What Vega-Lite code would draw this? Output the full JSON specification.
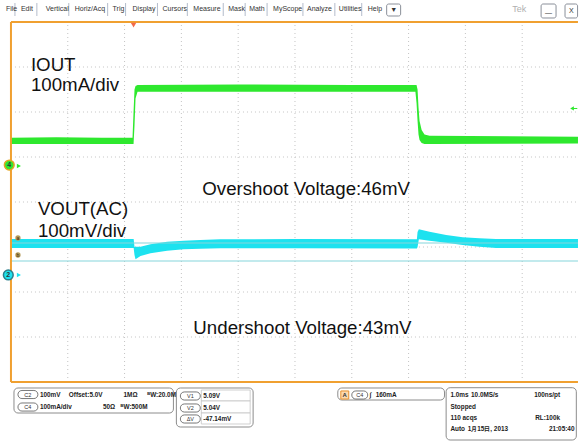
{
  "$schema": "https://vega.github.io/schema/vega-lite/v6.json",
  "width": 579,
  "height": 441,
  "padding": 0,
  "autosize": {"type": "fit", "contains": "padding"},
  "background": "white",
  "config": {"view": {"stroke": null}, "font": "Liberation Sans"},
  "datasets": {
    "grid": [
      {"t": 1, "y": -4, "t2": 1, "y2": 4}, {"t": 2, "y": -4, "t2": 2, "y2": 4}, {"t": 3, "y": -4, "t2": 3, "y2": 4},
      {"t": 4, "y": -4, "t2": 4, "y2": 4}, {"t": 5, "y": -4, "t2": 5, "y2": 4}, {"t": 6, "y": -4, "t2": 6, "y2": 4},
      {"t": 7, "y": -4, "t2": 7, "y2": 4}, {"t": 8, "y": -4, "t2": 8, "y2": 4}, {"t": 9, "y": -4, "t2": 9, "y2": 4},
      {"t": 0, "y": -3, "t2": 9.98, "y2": -3}, {"t": 0, "y": -2, "t2": 9.98, "y2": -2}, {"t": 0, "y": -1, "t2": 9.98, "y2": -1},
      {"t": 0, "y": 0, "t2": 9.98, "y2": 0}, {"t": 0, "y": 1, "t2": 9.98, "y2": 1}, {"t": 0, "y": 2, "t2": 9.98, "y2": 2},
      {"t": 0, "y": 3, "t2": 9.98, "y2": 3}
    ],
    "xMinor": [
      {"t": 0.2}, {"t": 0.4}, {"t": 0.6}, {"t": 0.8}, {"t": 1.0}, {"t": 1.2}, {"t": 1.4}, {"t": 1.6}, {"t": 1.8}, {"t": 2.0},
      {"t": 2.2}, {"t": 2.4}, {"t": 2.6}, {"t": 2.8}, {"t": 3.0}, {"t": 3.2}, {"t": 3.4}, {"t": 3.6}, {"t": 3.8}, {"t": 4.0},
      {"t": 4.2}, {"t": 4.4}, {"t": 4.6}, {"t": 4.8}, {"t": 5.0}, {"t": 5.2}, {"t": 5.4}, {"t": 5.6}, {"t": 5.8}, {"t": 6.0},
      {"t": 6.2}, {"t": 6.4}, {"t": 6.6}, {"t": 6.8}, {"t": 7.0}, {"t": 7.2}, {"t": 7.4}, {"t": 7.6}, {"t": 7.8}, {"t": 8.0},
      {"t": 8.2}, {"t": 8.4}, {"t": 8.6}, {"t": 8.8}, {"t": 9.0}, {"t": 9.2}, {"t": 9.4}, {"t": 9.6}, {"t": 9.8}
    ],
    "yMinor": [
      {"y": -3.8}, {"y": -3.6}, {"y": -3.4}, {"y": -3.2}, {"y": -3.0}, {"y": -2.8}, {"y": -2.6}, {"y": -2.4}, {"y": -2.2}, {"y": -2.0},
      {"y": -1.8}, {"y": -1.6}, {"y": -1.4}, {"y": -1.2}, {"y": -1.0}, {"y": -0.8}, {"y": -0.6}, {"y": -0.4}, {"y": -0.2}, {"y": 0.0},
      {"y": 0.2}, {"y": 0.4}, {"y": 0.6}, {"y": 0.8}, {"y": 1.0}, {"y": 1.2}, {"y": 1.4}, {"y": 1.6}, {"y": 1.8}, {"y": 2.0},
      {"y": 2.2}, {"y": 2.4}, {"y": 2.6}, {"y": 2.8}, {"y": 3.0}, {"y": 3.2}, {"y": 3.4}, {"y": 3.6}, {"y": 3.8}
    ],
    "iout": [
      {"t": 0, "y": 1.43, "y2": 1.29}, {"t": 0.8, "y": 1.44, "y2": 1.29}, {"t": 1.6, "y": 1.43, "y2": 1.29},
      {"t": 2.14, "y": 1.43, "y2": 1.29}, {"t": 2.158, "y": 2.0, "y2": 1.29}, {"t": 2.175, "y": 2.5, "y2": 1.7},
      {"t": 2.193, "y": 2.58, "y2": 2.3}, {"t": 2.228, "y": 2.6, "y2": 2.45}, {"t": 4.0, "y": 2.61, "y2": 2.45},
      {"t": 6.0, "y": 2.6, "y2": 2.45}, {"t": 7.12, "y": 2.6, "y2": 2.45}, {"t": 7.14, "y": 2.6, "y2": 2.2},
      {"t": 7.158, "y": 2.5, "y2": 1.8}, {"t": 7.175, "y": 2.1, "y2": 1.5}, {"t": 7.193, "y": 1.8, "y2": 1.38},
      {"t": 7.23, "y": 1.6, "y2": 1.31}, {"t": 7.28, "y": 1.5, "y2": 1.29}, {"t": 7.37, "y": 1.47, "y2": 1.29},
      {"t": 9.982, "y": 1.45, "y2": 1.3}
    ],
    "vout": [
      {"t": 0, "y": -0.822, "y2": -1.022}, {"t": 2.16, "y": -0.822, "y2": -1.022}, {"t": 2.175, "y": -1.0, "y2": -1.178},
      {"t": 2.193, "y": -0.993, "y2": -1.273}, {"t": 2.281, "y": -0.993, "y2": -1.2}, {"t": 2.456, "y": -0.94, "y2": -1.14},
      {"t": 2.749, "y": -0.882, "y2": -1.082}, {"t": 3.04, "y": -0.86, "y2": -1.051}, {"t": 3.333, "y": -0.844, "y2": -1.038},
      {"t": 3.684, "y": -0.829, "y2": -1.029}, {"t": 5.0, "y": -0.822, "y2": -1.025}, {"t": 7.146, "y": -0.829, "y2": -1.033},
      {"t": 7.158, "y": -0.667, "y2": -1.0}, {"t": 7.181, "y": -0.607, "y2": -0.829}, {"t": 7.368, "y": -0.66, "y2": -0.86},
      {"t": 7.661, "y": -0.733, "y2": -0.904}, {"t": 7.953, "y": -0.784, "y2": -0.956}, {"t": 8.246, "y": -0.807, "y2": -0.993},
      {"t": 8.539, "y": -0.822, "y2": -1.022}, {"t": 9.982, "y": -0.822, "y2": -1.022}
    ],
    "cursors": [
      {"t": 0, "y": -0.911, "t2": 9.982, "y2": -0.911},
      {"t": 0, "y": -1.311, "t2": 9.982, "y2": -1.311}
    ],
    "frame": [
      {"t": 0, "y": 4, "t2": 9.982, "y2": 4},
      {"t": 0, "y": -4, "t2": 9.982, "y2": -4},
      {"t": 0, "y": -4, "t2": 0, "y2": 4}
    ],
    "menuSeps": [
      {"t": 0.07, "y": 4.422, "t2": 0.07, "y2": 4.133}, {"t": 0.456, "y": 4.422, "t2": 0.456, "y2": 4.133},
      {"t": 1.018, "y": 4.422, "t2": 1.018, "y2": 4.133}, {"t": 1.702, "y": 4.422, "t2": 1.702, "y2": 4.133},
      {"t": 2.018, "y": 4.422, "t2": 2.018, "y2": 4.133}, {"t": 2.579, "y": 4.422, "t2": 2.579, "y2": 4.133},
      {"t": 3.105, "y": 4.422, "t2": 3.105, "y2": 4.133}, {"t": 3.737, "y": 4.422, "t2": 3.737, "y2": 4.133},
      {"t": 4.123, "y": 4.422, "t2": 4.123, "y2": 4.133}, {"t": 4.509, "y": 4.422, "t2": 4.509, "y2": 4.133},
      {"t": 5.14, "y": 4.422, "t2": 5.14, "y2": 4.133}, {"t": 5.702, "y": 4.422, "t2": 5.702, "y2": 4.133},
      {"t": 6.175, "y": 4.422, "t2": 6.175, "y2": 4.133}
    ],
    "menu": [
      {"t": -0.088, "y": 4.3, "label": "File"}, {"t": 0.175, "y": 4.3, "label": "Edit"},
      {"t": 0.614, "y": 4.3, "label": "Vertical"}, {"t": 1.123, "y": 4.3, "label": "Horiz/Acq"},
      {"t": 1.789, "y": 4.3, "label": "Trig"}, {"t": 2.14, "y": 4.3, "label": "Display"},
      {"t": 2.667, "y": 4.3, "label": "Cursors"}, {"t": 3.211, "y": 4.3, "label": "Measure"},
      {"t": 3.825, "y": 4.3, "label": "Mask"}, {"t": 4.193, "y": 4.3, "label": "Math"},
      {"t": 4.614, "y": 4.3, "label": "MyScope"}, {"t": 5.211, "y": 4.3, "label": "Analyze"},
      {"t": 5.772, "y": 4.3, "label": "Utilities"}, {"t": 6.281, "y": 4.3, "label": "Help"}
    ],
    "menuBoxes": [
      {"t": 6.614, "t2": 6.86, "y": 4.4, "y2": 4.133},
      {"t": 9.333, "t2": 9.596, "y": 4.4, "y2": 4.089},
      {"t": 9.754, "t2": 9.975, "y": 4.4, "y2": 4.089}
    ],
    "menuBoxLabels": [
      {"t": 6.737, "y": 4.267, "label": "▼"},
      {"t": 9.465, "y": 4.2, "label": "—"},
      {"t": 9.865, "y": 4.245, "label": "X"}
    ],
    "labels": [
      {"t": 0.351, "y": 2.911, "label": "IOUT"},
      {"t": 0.351, "y": 2.467, "label": "100mA/div"},
      {"t": 0.474, "y": -0.289, "label": "VOUT(AC)"},
      {"t": 0.474, "y": -0.778, "label": "100mV/div"},
      {"t": 3.368, "y": 0.156, "label": "Overshoot Voltage:46mV"},
      {"t": 3.211, "y": -2.933, "label": "Undershoot Voltage:43mV"}
    ],
    "chan": [
      {"t": -0.03, "y": 0.822, "ch": "4"},
      {"t": -0.047, "y": -1.622, "ch": "2"}
    ],
    "chanArrow": [
      {"t": 0.14, "y": 0.8, "ch": "4"},
      {"t": 0.14, "y": -1.622, "ch": "2"}
    ],
    "curMarks": [
      {"t": 0.123, "y": -0.8, "label": "a"},
      {"t": 0.123, "y": -1.178, "label": "b"}
    ],
    "trigLevel": [{"t": 9.877, "y": 2.078, "t2": 9.97, "y2": 2.078}],
    "trigPos": [{"t": 2.158, "y": 3.93}],
    "boxes": [
      {"t": 0.053, "t2": 2.86, "y": -4.133, "y2": -4.689},
      {"t": 2.912, "t2": 4.263, "y": -4.133, "y2": -5.0},
      {"t": 5.754, "t2": 7.632, "y": -4.133, "y2": -4.4},
      {"t": 7.661, "t2": 9.953, "y": -4.127, "y2": -5.289}
    ],
    "fields": [
      {"t": 3.351, "t2": 4.211, "y": -4.178, "y2": -4.422},
      {"t": 3.351, "t2": 4.211, "y": -4.422, "y2": -4.689},
      {"t": 3.351, "t2": 4.211, "y": -4.689, "y2": -4.933}
    ],
    "pills": [
      {"t": 0.123, "t2": 0.474, "y": -4.188, "y2": -4.368, "tc": 0.298, "yc": -4.278, "label": "C2"},
      {"t": 0.123, "t2": 0.474, "y": -4.466, "y2": -4.646, "tc": 0.298, "yc": -4.556, "label": "C4"},
      {"t": 2.982, "t2": 3.333, "y": -4.221, "y2": -4.401, "tc": 3.158, "yc": -4.311, "label": "V1"},
      {"t": 2.982, "t2": 3.333, "y": -4.488, "y2": -4.668, "tc": 3.158, "yc": -4.578, "label": "V2"},
      {"t": 2.982, "t2": 3.333, "y": -4.732, "y2": -4.912, "tc": 3.158, "yc": -4.822, "label": "ΔV"},
      {"t": 6.0, "t2": 6.281, "y": -4.199, "y2": -4.379, "tc": 6.14, "yc": -4.289, "label": "C4"}
    ],
    "trigA": [{"t": 5.807, "t2": 5.947, "y": -4.199, "y2": -4.379, "tc": 5.877, "yc": -4.289, "label": "A"}],
    "status": [
      {"t": 0.509, "y": -4.278, "label": "100mV"},
      {"t": 1.018, "y": -4.278, "label": "Offset:5.0V"},
      {"t": 1.982, "y": -4.278, "label": "1MΩ"},
      {"t": 2.4, "y": -4.278, "label": "ᴮW:20.0M"},
      {"t": 0.509, "y": -4.556, "label": "100mA/div"},
      {"t": 1.62, "y": -4.556, "label": "50Ω"},
      {"t": 1.93, "y": -4.556, "label": "ᴮW:500M"},
      {"t": 3.386, "y": -4.311, "label": "5.09V"},
      {"t": 3.386, "y": -4.578, "label": "5.04V"},
      {"t": 3.386, "y": -4.822, "label": "-47.14mV"},
      {"t": 6.316, "y": -4.289, "label": "∫"},
      {"t": 6.421, "y": -4.289, "label": "160mA"},
      {"t": 7.737, "y": -4.289, "label": "1.0ms"},
      {"t": 8.1, "y": -4.289, "label": "10.0MS/s"},
      {"t": 9.211, "y": -4.289, "label": "100ns/pt"},
      {"t": 7.737, "y": -4.556, "label": "Stopped"},
      {"t": 7.737, "y": -4.8, "label": "110 acqs"},
      {"t": 9.228, "y": -4.8, "label": "RL:100k"},
      {"t": 7.737, "y": -5.044, "label": "Auto"},
      {"t": 8.04, "y": -5.044, "label": "1月15日, 2013"},
      {"t": 9.47, "y": -5.044, "label": "21:05:40"}
    ],
    "tek": [{"t": 8.825, "y": 4.3, "label": "Tek"}]
  },
  "encoding": {
    "x": {"field": "t", "type": "quantitative", "scale": {"domain": [-0.1754, 9.9825], "nice": false, "zero": false}, "axis": null},
    "y": {"field": "y", "type": "quantitative", "scale": {"domain": [-5.3111, 4.4889], "nice": false, "zero": false}, "axis": null}
  },
  "layer": [
    {"data": {"name": "grid"}, "mark": {"type": "rule", "color": "#c4c4c4", "strokeWidth": 1, "strokeDash": [1, 3]},
     "encoding": {"x2": {"field": "t2"}, "y2": {"field": "y2"}}},
    {"data": {"name": "xMinor"}, "mark": {"type": "tick", "orient": "vertical", "size": 4, "thickness": 1, "color": "#a8a8a8"},
     "encoding": {"y": {"datum": 3.956, "type": "quantitative", "axis": null}}},
    {"data": {"name": "xMinor"}, "mark": {"type": "tick", "orient": "vertical", "size": 4, "thickness": 1, "color": "#a8a8a8"},
     "encoding": {"y": {"datum": -3.956, "type": "quantitative", "axis": null}}},
    {"data": {"name": "xMinor"}, "mark": {"type": "tick", "orient": "vertical", "size": 7, "thickness": 1, "color": "#a8a8a8"},
     "encoding": {"y": {"datum": 0, "type": "quantitative", "axis": null}}},
    {"data": {"name": "yMinor"}, "mark": {"type": "tick", "orient": "horizontal", "size": 5, "thickness": 1, "color": "#a8a8a8"},
     "encoding": {"x": {"datum": 0.045, "type": "quantitative", "axis": null}}},
    {"data": {"name": "yMinor"}, "mark": {"type": "tick", "orient": "horizontal", "size": 7, "thickness": 1, "color": "#a8a8a8"},
     "encoding": {"x": {"datum": 5, "type": "quantitative", "axis": null}}},
    {"data": {"name": "vout"}, "mark": {"type": "area", "color": "#1de2ef", "opacity": 1},
     "encoding": {"y2": {"field": "y2"}}},
    {"data": {"name": "iout"}, "mark": {"type": "area", "color": "#2ee82e", "opacity": 1},
     "encoding": {"y2": {"field": "y2"}}},
    {"data": {"name": "cursors"}, "mark": {"type": "rule", "color": "#86d6dc", "strokeWidth": 1.2},
     "encoding": {"x2": {"field": "t2"}, "y2": {"field": "y2"}}},
    {"data": {"name": "frame"}, "mark": {"type": "rule", "color": "#f0a030", "strokeWidth": 2},
     "encoding": {"x2": {"field": "t2"}, "y2": {"field": "y2"}}},
    {"data": {"name": "menuSeps"}, "mark": {"type": "rule", "color": "#b4bccb", "strokeWidth": 1},
     "encoding": {"x2": {"field": "t2"}, "y2": {"field": "y2"}}},
    {"data": {"name": "trigLevel"}, "mark": {"type": "rule", "color": "#2ee82e", "strokeWidth": 1},
     "encoding": {"x2": {"field": "t2"}, "y2": {"field": "y2"}}},
    {"data": {"name": "trigLevel"}, "mark": {"type": "point", "shape": "triangle-left", "filled": true, "size": 18, "color": "#2ee82e", "opacity": 1}},
    {"data": {"name": "trigPos"}, "mark": {"type": "point", "shape": "triangle-down", "filled": true, "size": 30, "color": "#f26a4b", "opacity": 1}},
    {"data": {"name": "chanArrow"}, "mark": {"type": "point", "shape": "triangle-right", "filled": true, "size": 22, "opacity": 1},
     "encoding": {"fill": {"field": "ch", "type": "nominal", "scale": {"domain": ["4", "2"], "range": ["#2ee82e", "#1de2ef"]}, "legend": null}}},
    {"data": {"name": "chan"}, "mark": {"type": "point", "shape": "circle", "filled": true, "size": 95, "opacity": 1, "strokeWidth": 1.5},
     "encoding": {
       "fill": {"field": "ch", "type": "nominal", "scale": {"domain": ["4", "2"], "range": ["#49e349", "#2ad6e6"]}, "legend": null},
       "stroke": {"field": "ch", "type": "nominal", "scale": {"domain": ["4", "2"], "range": ["#e3a521", "#2c7f8c"]}, "legend": null}}},
    {"data": {"name": "chan"}, "mark": {"type": "text", "fontSize": 7, "fontWeight": "bold", "color": "#333333", "align": "center", "baseline": "middle"},
     "encoding": {"text": {"field": "ch"}}},
    {"data": {"name": "curMarks"}, "mark": {"type": "point", "shape": "circle", "filled": true, "size": 28, "color": "#b59a5a", "opacity": 1}},
    {"data": {"name": "curMarks"}, "mark": {"type": "text", "fontSize": 5, "color": "#3a2a10", "align": "center", "baseline": "middle"},
     "encoding": {"text": {"field": "label"}}},
    {"data": {"name": "labels"}, "mark": {"type": "text", "fontSize": 18.7, "color": "#111111", "align": "left", "baseline": "alphabetic"},
     "encoding": {"text": {"field": "label"}}},
    {"data": {"name": "menu"}, "mark": {"type": "text", "fontSize": 7, "color": "#333333", "align": "left", "baseline": "middle"},
     "encoding": {"text": {"field": "label"}}},
    {"data": {"name": "menuBoxes"}, "mark": {"type": "rect", "fill": "white", "stroke": "#8a8f99", "strokeWidth": 1, "cornerRadius": 2},
     "encoding": {"x2": {"field": "t2"}, "y2": {"field": "y2"}}},
    {"data": {"name": "menuBoxLabels"}, "mark": {"type": "text", "fontSize": 7, "color": "#333333", "align": "center", "baseline": "middle"},
     "encoding": {"text": {"field": "label"}}},
    {"data": {"name": "tek"}, "mark": {"type": "text", "fontSize": 9, "color": "#b0b0b0", "align": "left", "baseline": "middle"},
     "encoding": {"text": {"field": "label"}}},
    {"data": {"name": "boxes"}, "mark": {"type": "rect", "fill": "white", "stroke": "#8c8c8c", "strokeWidth": 1, "cornerRadius": 4},
     "encoding": {"x2": {"field": "t2"}, "y2": {"field": "y2"}}},
    {"data": {"name": "fields"}, "mark": {"type": "rect", "fill": "white", "stroke": "#c4c4c4", "strokeWidth": 0.8},
     "encoding": {"x2": {"field": "t2"}, "y2": {"field": "y2"}}},
    {"data": {"name": "pills"}, "mark": {"type": "rect", "fill": "white", "stroke": "#555555", "strokeWidth": 0.8, "cornerRadius": 4},
     "encoding": {"x2": {"field": "t2"}, "y2": {"field": "y2"}}},
    {"data": {"name": "pills"}, "mark": {"type": "text", "fontSize": 5.5, "color": "#333333", "align": "center", "baseline": "middle"},
     "encoding": {"x": {"field": "tc", "type": "quantitative", "axis": null}, "y": {"field": "yc", "type": "quantitative", "axis": null}, "text": {"field": "label"}}},
    {"data": {"name": "trigA"}, "mark": {"type": "rect", "fill": "#fbd9b0", "stroke": "#e8902a", "strokeWidth": 1},
     "encoding": {"x2": {"field": "t2"}, "y2": {"field": "y2"}}},
    {"data": {"name": "trigA"}, "mark": {"type": "text", "fontSize": 6, "fontWeight": "bold", "color": "#333333", "align": "center", "baseline": "middle"},
     "encoding": {"x": {"field": "tc", "type": "quantitative", "axis": null}, "y": {"field": "yc", "type": "quantitative", "axis": null}, "text": {"field": "label"}}},
    {"data": {"name": "status"}, "mark": {"type": "text", "fontSize": 6.4, "fontWeight": "bold", "color": "#222222", "align": "left", "baseline": "middle"},
     "encoding": {"text": {"field": "label"}}}
  ]
}
